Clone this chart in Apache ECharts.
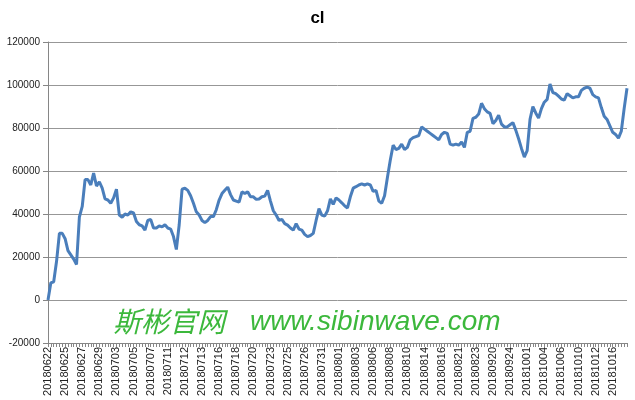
<!DOCTYPE html>
<html>
<head>
<meta charset="utf-8">
<script src="https://cdn.jsdelivr.net/npm/echarts@6/dist/echarts.min.js"></script>
<style>
html,body{margin:0;padding:0;background:#fff;}
#chart{width:635px;height:400px;}
</style>
</head>
<body>
<div id="chart"></div>
<script>
// Tick-label dates (one every 6 points)
const labelDates = ['20180622','20180625','20180627','20180629','20180703','20180705','20180707','20180711','20180712','20180713','20180716','20180718','20180720','20180723','20180725','20180726','20180731','20180801','20180803','20180806','20180808','20180810','20180814','20180816','20180821','20180823','20180920','20180924','20181001','20181004','20181006','20181010','20181012','20181016'];
const pointsPerLabel = 6;

// Series "cl" values
const clValues = [
  0, 8000, 8500, 18000, 31000, 31000, 28500, 23000, 21000, 19000,
  16500, 38500, 43500, 56000, 56000, 53500, 59000, 53000, 55000, 52000,
  47000, 46500, 45000, 47500, 51500, 39500, 38500, 40000, 39500, 41000,
  40500, 36500, 35000, 34500, 32500, 37000, 37500, 33500, 33500, 34500,
  34000, 35000, 33500, 33000, 29500, 23500, 35000, 51500, 52000, 51000,
  48500, 45000, 41000, 39500, 37000, 36000, 37000, 38800, 38800, 42000,
  46500, 49500, 51000, 52500, 49000, 46500, 46000, 45500, 50300, 49500,
  50300, 48000, 48000, 46800, 47000, 48000, 48300, 51000, 46000, 41500,
  39500, 37000, 37500, 35500, 34800, 33500, 32500, 35500, 33000, 32500,
  30500, 29500, 30000, 31000, 37000, 42500, 39500, 39000, 41500, 47000,
  44500, 47500, 46500, 45200, 43800, 42800, 48000, 52000, 52700, 53500,
  54000, 53500, 54000, 53500, 50500, 51000, 46000, 45000, 48500, 57000,
  65000, 72000, 70000, 70500, 72500, 70000, 71000, 74500, 75500, 76000,
  76500, 80500, 79500, 78500, 77500, 76500, 75500, 74500, 77000, 78000,
  77500, 72500, 72000, 72500, 72000, 73500, 71000, 78000, 78500, 84500,
  85000, 86500, 91500, 89000, 87500, 86800, 82000, 83500, 86000, 81800,
  80500, 80500, 81500, 82500, 79000, 75000, 70500, 66500, 69500, 84000,
  90000, 87000, 84600, 89000, 92000, 93300, 100500, 96500, 96000, 94800,
  93500, 93000, 96000, 95000, 94000, 94500, 94500, 97500, 98500, 99000,
  98500, 95500, 94500, 94000, 89500, 85500, 84000, 81000, 78000, 77000,
  75300, 78500, 89000, 98500
];

// Y axis ticks
const yMin = -20000, yMax = 120000, yStep = 20000;

const categories = clValues.map((v, i) => labelDates[Math.min(labelDates.length - 1, Math.floor(i / pointsPerLabel))]);

const chart = echarts.init(document.getElementById('chart'), null, {renderer: 'canvas'});
chart.setOption({
  animation: false,
  backgroundColor: '#ffffff',
  title: {
    text: 'cl',
    left: 'center',
    top: 5,
    textStyle: {fontFamily: 'Liberation Sans', fontSize: 17, fontWeight: 'bold', color: '#000'}
  },
  grid: {left: 48, right: 8, top: 42, bottom: 57, containLabel: false},
  xAxis: {
    type: 'category',
    data: categories,
    boundaryGap: false,
    axisLine: {onZero: false, lineStyle: {color: '#868686', width: 1}},
    axisTick: {show: true, interval: 0, length: 4, lineStyle: {color: '#868686'}},
    axisLabel: {
      interval: pointsPerLabel - 1,
      rotate: 90,
      margin: 4,
      fontFamily: 'Liberation Sans',
      fontSize: 11,
      color: '#222'
    },
    splitLine: {show: false}
  },
  yAxis: {
    type: 'value',
    min: yMin, max: yMax, interval: yStep,
    axisLine: {show: true, lineStyle: {color: '#868686'}},
    axisTick: {show: true, length: 5, lineStyle: {color: '#868686'}},
    axisLabel: {fontFamily: 'Liberation Sans', fontSize: 10, color: '#222', margin: 8,
      formatter: (v) => String(v)},
    splitLine: {show: true, lineStyle: {color: '#979797', width: 1}}
  },
  series: [{
    name: 'cl',
    type: 'line',
    data: clValues,
    showSymbol: false,
    symbol: 'none',
    lineStyle: {color: '#4a7ebb', width: 3},
    itemStyle: {color: '#4a7ebb'}
  }],
  graphic: [
    {
      type: 'text', left: 113, top: 307, z: 100,
      style: {
        text: '斯彬官网',
        font: 'italic 28px "Noto Sans CJK SC"',
        fill: '#3cb83c',
        shadowColor: 'rgba(0,0,0,0.45)', shadowBlur: 4, shadowOffsetX: 3, shadowOffsetY: 3
      }
    },
    {
      type: 'text', left: 250, top: 308, z: 100,
      style: {
        text: 'www.sibinwave.com',
        font: 'italic 28px "Liberation Sans"',
        fill: '#3cb83c',
        shadowColor: 'rgba(0,0,0,0.45)', shadowBlur: 4, shadowOffsetX: 3, shadowOffsetY: 3
      }
    }
  ]
});
</script>
</body>
</html>
